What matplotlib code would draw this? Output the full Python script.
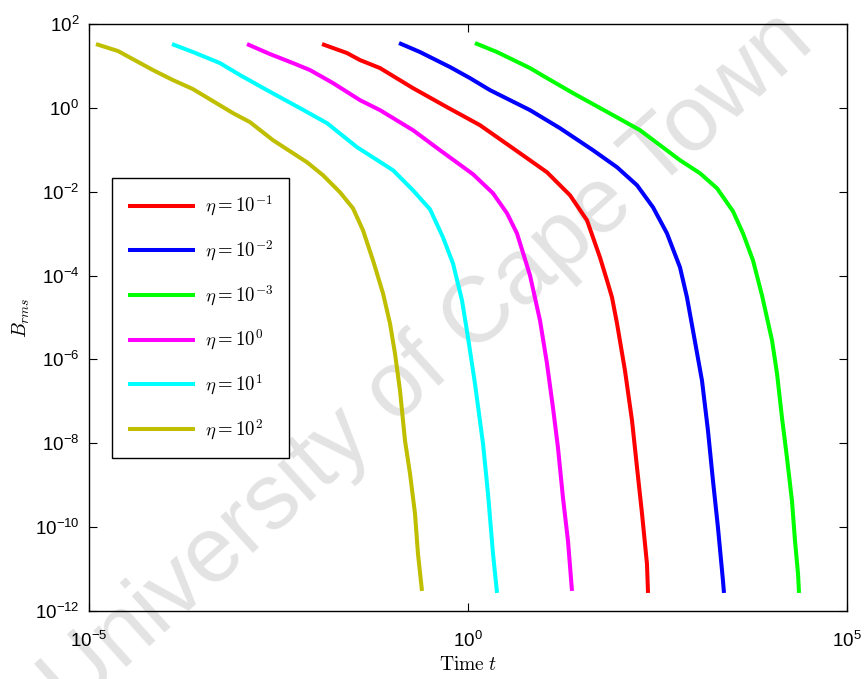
import numpy as np
import matplotlib
matplotlib.use("Agg")
import matplotlib.pyplot as plt
from matplotlib.ticker import FixedLocator, FuncFormatter, NullLocator


# values as log10(t) and log10(B_rms)
labels = [r"$\eta = 10^{-1}$", r"$\eta = 10^{-2}$", r"$\eta = 10^{-3}$",
          r"$\eta = 10^{0}$", r"$\eta = 10^{1}$", r"$\eta = 10^{2}$"]
colors = ["#ff0000", "#0000ff", "#00ff00", "#ff00ff", "#00ffff", "#bfbf00"]

log_t_eta_m1 = [-1.926, -1.596, -1.425, -1.161, -0.726, -0.277, 0.158, 0.686,
                1.042, 1.346, 1.570, 1.741, 1.834, 1.900, 1.966, 2.071,
                2.164, 2.230, 2.296, 2.361, 2.375]
log_b_eta_m1 = [1.522, 1.307, 1.140, 0.949, 0.471, 0.017, -0.413, -1.082,
                -1.536, -2.085, -2.682, -3.566, -4.116, -4.522, -5.143, -6.266,
                -7.460, -8.583, -9.682, -10.876, -11.569]

log_t_eta_m2 = [-0.910, -0.633, -0.237, 0.026, 0.290, 0.818, 1.214, 1.649,
                1.966, 2.230, 2.441, 2.625, 2.797, 2.889, 2.968, 3.087,
                3.166, 3.232, 3.298, 3.364, 3.377]
log_b_eta_m2 = [1.546, 1.331, 0.973, 0.710, 0.423, -0.054, -0.485, -1.010,
                -1.416, -1.846, -2.372, -2.993, -3.805, -4.522, -5.310, -6.505,
                -7.699, -8.894, -10.016, -11.282, -11.569]

log_t_eta_m3 = [0.092, 0.383, 0.818, 1.042, 1.385, 1.913, 2.269, 2.797,
                3.061, 3.285, 3.496, 3.628, 3.760, 3.879, 4.011, 4.077,
                4.142, 4.208, 4.274, 4.314, 4.354, 4.367]
log_b_eta_m3 = [1.546, 1.331, 0.949, 0.710, 0.352, -0.174, -0.532, -1.249,
                -1.560, -1.918, -2.467, -2.993, -3.638, -4.474, -5.549, -6.337,
                -7.388, -8.344, -9.371, -10.327, -11.115, -11.569]

log_t_eta_0 = [-2.916, -2.612, -2.309, -2.084, -1.781, -1.425, -1.161, -0.726,
               -0.369, 0.066, 0.330, 0.515, 0.646, 0.818, 0.950, 1.042,
               1.121, 1.187, 1.253, 1.319, 1.372]
log_b_eta_0 = [1.522, 1.283, 1.068, 0.901, 0.591, 0.184, -0.054, -0.532,
               -1.010, -1.583, -2.037, -2.515, -2.993, -3.996, -5.071, -6.098,
               -7.150, -8.105, -9.300, -10.327, -11.521]

log_t_eta_1 = [-3.905, -3.628, -3.272, -3.008, -2.652, -2.216, -1.860, -1.464,
               -0.989, -0.726, -0.501, -0.330, -0.198, -0.079, 0.000, 0.092,
               0.198, 0.264, 0.330, 0.383]
log_b_eta_1 = [1.522, 1.331, 1.068, 0.782, 0.423, -0.007, -0.365, -0.938,
               -1.488, -1.966, -2.420, -3.088, -3.710, -4.593, -5.477, -6.576,
               -8.009, -9.204, -10.637, -11.569]

log_t_eta_2 = [-4.908, -4.617, -4.156, -3.892, -3.628, -3.100, -2.876, -2.573,
               -2.124, -1.913, -1.689, -1.517, -1.385, -1.253, -1.121, -1.029,
               -0.963, -0.897, -0.831, -0.765, -0.699, -0.660, -0.607]
log_b_eta_2 = [1.522, 1.355, 0.901, 0.662, 0.447, -0.126, -0.341, -0.771,
               -1.297, -1.607, -2.013, -2.396, -2.921, -3.638, -4.426, -5.143,
               -5.860, -6.744, -7.938, -8.726, -9.682, -10.637, -11.521]

series_t = [log_t_eta_m1, log_t_eta_m2, log_t_eta_m3,
            log_t_eta_0, log_t_eta_1, log_t_eta_2]
series_b = [log_b_eta_m1, log_b_eta_m2, log_b_eta_m3,
            log_b_eta_0, log_b_eta_1, log_b_eta_2]

x_ticks = [1e-5, 1e0, 1e5]
y_ticks = [1e-12, 1e-10, 1e-8, 1e-6, 1e-4, 1e-2, 1e0, 1e2]


def power_label(value, pos):
    """
    Tick label in the form 10^n, set in the plain text font.
    """
    return r"$\mathregular{10^{%d}}$" % int(round(np.log10(value)))


def create_plot(save_name):
    """
    Draws B_rms against time for every eta and saves the figure.
    """
    plt.rcParams["font.family"] = ["Liberation Sans", "DejaVu Sans"]
    plt.rcParams["mathtext.fontset"] = "cm"

    fig = plt.figure(figsize=(8.64, 6.79), dpi=100, facecolor="white")
    ax = fig.add_axes([89 / 864, 1 - 611 / 679, 758 / 864, 587 / 679])
    ax.set_facecolor("none")

    # watermark sits under the lines but reaches past the axes
    fig.text(0.495, 0.465, "University of Cape Town", fontsize=67,
             color="#e3e3e3", rotation=42, ha="center", va="center",
             zorder=-1)

    for log_t, log_b, color, label in zip(series_t, series_b, colors, labels):
        ax.plot(10 ** np.array(log_t), 10 ** np.array(log_b),
                color=color, linewidth=2.9, label=label,
                solid_capstyle="butt", solid_joinstyle="round")

    ax.set_xscale("log")
    ax.set_yscale("log")
    ax.set_xlim(1e-5, 1e5)
    ax.set_ylim(1e-12, 1e2)

    ax.xaxis.set_major_locator(FixedLocator(x_ticks))
    ax.yaxis.set_major_locator(FixedLocator(y_ticks))
    ax.xaxis.set_minor_locator(NullLocator())
    ax.yaxis.set_minor_locator(NullLocator())
    ax.xaxis.set_major_formatter(FuncFormatter(power_label))
    ax.yaxis.set_major_formatter(FuncFormatter(power_label))
    ax.tick_params(direction="in", length=6, width=0.8, labelsize=13.5,
                   top=True, right=True)
    ax.tick_params(axis="x", pad=14)
    ax.tick_params(axis="y", pad=7)
    for spine in ax.spines.values():
        spine.set_linewidth(1.0)

    ax.set_xlabel(r"$\mathrm{Time}\ t$", fontsize=14, labelpad=4)
    ax.set_ylabel(r"$B_{rms}$", fontsize=14, labelpad=2)

    legend = ax.legend(loc="upper left",
                       bbox_to_anchor=(112 / 864, 1 - 178 / 679),
                       bbox_transform=fig.transFigure, borderaxespad=0,
                       fontsize=13.5, handlelength=3.6, labelspacing=1.08,
                       borderpad=0.85, handletextpad=0.5, fancybox=False,
                       edgecolor="black", framealpha=1)
    legend.get_frame().set_linewidth(1.0)

    plt.savefig(save_name, dpi=100, facecolor="white")


def main():
    """
    Does all the work
    """
    create_plot("out.png")


if __name__ == "__main__":
    main()
